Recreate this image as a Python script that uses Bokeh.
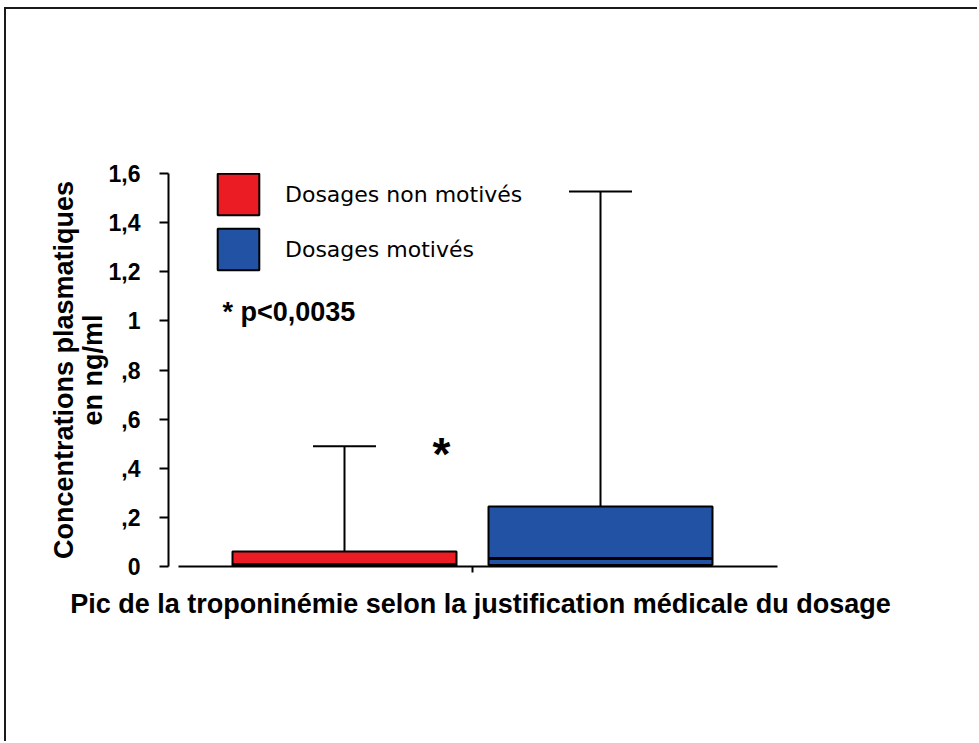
from bokeh.plotting import figure
from bokeh.models import FixedTicker, Range1d, ColumnDataSource, Label
from bokeh.transform import dodge
from bokeh.core.properties import value
from bokeh.embed import file_html
from bokeh.resources import INLINE

# ---- data ----
groups = ["Dosages non motivés", "Dosages motivés"]
positions = [1, 2]
q1 = [0.0, 0.006]
medians = [0.008, 0.033]
q3 = [0.061, 0.244]
upper = [0.49, 1.527]
colors = ["#ec1c24", "#2252a3"]

y_ticks = [0, 0.2, 0.4, 0.6, 0.8, 1, 1.2, 1.4, 1.6]
y_tick_labels = ["0", ",2", ",4", ",6", ",8", "1", "1,2", "1,4", "1,6"]
separator_ticks = [1.5]
p_value_text = "* p<0,0035"
signif_mark = "*"
x_title = "Pic de la troponinémie selon la justification médicale du dosage"
y_title = "Concentrations plasmatiques\nen ng/ml"

BOLD = "Liberation Sans"

p = figure(frame_width=624, frame_height=393,
           x_range=Range1d(0.3125, 2.75), y_range=Range1d(0, 1.6),
           output_backend="svg", toolbar_location=None,
           min_border_left=162, min_border_top=164,
           min_border_right=185, min_border_bottom=175,
           outline_line_color=None, background_fill_color="white",
           border_fill_color="white")
p.styles = {"border-left": "2px solid #1a1a1a", "border-top": "2px solid #1a1a1a",
            "margin-left": "4px", "margin-top": "7px"}
p.xgrid.visible = False
p.ygrid.visible = False

src = ColumnDataSource(dict(x=positions, q1=q1, med=medians, q3=q3, up=upper,
                            color=colors, group=groups))

# whiskers
p.segment(x0="x", y0="q3", x1="x", y1="up", source=src, line_color="black", line_width=2)
p.segment(x0=dodge("x", -0.123), y0="up", x1=dodge("x", 0.123), y1="up", source=src,
          line_color="black", line_width=2)
# boxes
p.vbar(x="x", width=0.875, bottom="q1", top="q3", source=src, fill_color="color",
       line_color="black", line_width=2, legend_field="group")
# medians
p.segment(x0=dodge("x", -0.4375), y0="med", x1=dodge("x", 0.4375), y1="med", source=src,
          line_color="black", line_width=3)

# y axis
ya = p.yaxis[0]
ya.ticker = FixedTicker(ticks=y_ticks)
ya.major_label_overrides = dict(zip(y_ticks, y_tick_labels))
ya.bounds = (0, 1.6)
ya.minor_tick_line_color = None
ya.major_tick_in = 0
ya.major_tick_out = 9
ya.axis_line_width = 2
ya.major_tick_line_width = 2
ya.axis_line_color = "black"
ya.major_tick_line_color = "black"
ya.major_label_text_font = BOLD
ya.major_label_text_font_style = "bold"
ya.major_label_text_font_size = "23px"
ya.major_label_text_color = "black"
ya.major_label_standoff = 19
ya.axis_label = y_title
ya.axis_label_text_font = BOLD
ya.axis_label_text_font_style = "bold"
ya.axis_label_text_font_size = "27px"
ya.axis_label_text_line_height = 0.95
ya.axis_label_text_color = "black"
ya.axis_label_standoff = -2

# x axis
xa = p.xaxis[0]
xa.ticker = FixedTicker(ticks=separator_ticks)
xa.bounds = (0.352, 2.69)
xa.minor_tick_line_color = None
xa.major_tick_in = 0
xa.major_tick_out = 6
xa.major_tick_line_width = 2
xa.axis_line_width = 2
xa.axis_line_color = "black"
xa.major_tick_line_color = "black"
xa.major_label_text_font_size = "1px"
xa.major_label_text_color = None
xa.major_label_standoff = 0
xa.axis_label = x_title
xa.axis_label_text_font = BOLD
xa.axis_label_text_font_style = "bold"
xa.axis_label_text_font_size = "27px"
xa.axis_label_text_color = "black"
xa.axis_label_standoff = 16

# legend
lg = p.legend[0]
lg.location = (44, 291)
lg.glyph_width = 52
lg.glyph_height = 52
lg.spacing = 3
lg.padding = 0
lg.margin = 0
lg.label_standoff = 21
lg.label_text_font = "DejaVu Sans"
lg.label_text_font_size = "22px"
lg.label_text_color = "black"
lg.border_line_color = None
lg.background_fill_alpha = 0

# annotations
p.add_layout(Label(x=0.523, y=1.038, text=p_value_text, text_font=BOLD,
                   text_font_style="bold", text_font_size="27px",
                   text_baseline="middle", text_color="black"))
p.add_layout(Label(x=1.379, y=0.458, text=signif_mark, text_font=BOLD,
                   text_font_style="bold", text_font_size="46px",
                   text_align="center", text_baseline="alphabetic", text_color="black"))

open("out.html", "w").write(file_html(p, INLINE))
